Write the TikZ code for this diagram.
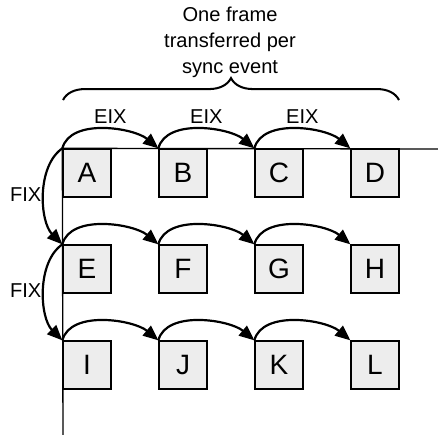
\documentclass[tikz,border=0pt]{standalone}
\usepackage{fontspec}
\setmainfont{Liberation Sans}
\usetikzlibrary{arrows.meta, decorations.pathreplacing}

\begin{document}
\begin{tikzpicture}[
        frame/.style={draw, line width=0.8pt, fill=black!7, minimum size=1cm, inner sep=0pt,
            font=\fontsize{16.6}{18}\selectfont},
        link/.style={line width=1.3pt, -{Triangle[length=9pt, width=7.5pt]}, looseness=0.85},
        lbl/.style={font=\fontsize{11.9}{14}\selectfont, inner sep=1pt}
    ]
        \useasboundingbox (-1.3125, 3.104) rectangle (7.8125, -5.958);

        \node[frame] (A) at (0.5, -0.5) {A};
        \node[frame] (B) at (2.5, -0.5) {B};
        \node[frame] (C) at (4.5, -0.5) {C};
        \node[frame] (D) at (6.5, -0.5) {D};

        \node[frame] (E) at (0.5, -2.5) {E};
        \node[frame] (F) at (2.5, -2.5) {F};
        \node[frame] (G) at (4.5, -2.5) {G};
        \node[frame] (H) at (6.5, -2.5) {H};

        \node[frame] (I) at (0.5, -4.5) {I};
        \node[frame] (J) at (2.5, -4.5) {J};
        \node[frame] (K) at (4.5, -4.5) {K};
        \node[frame] (L) at (6.5, -4.5) {L};

        \coordinate (right) at (7.8125, 0);
        \coordinate (bottom) at (0, -5.958);
        \draw[line width=0.8pt] (right) -- (A.north west) -- (bottom);

        \draw[link] (A.north west) to[out=75, in=140] node[lbl, above=2pt, pos=0.55] {EIX} (B.north west);
        \draw[link] (B.north west) to[out=75, in=140] node[lbl, above=2pt, pos=0.55] {EIX} (C.north west);
        \draw[link] (C.north west) to[out=75, in=140] node[lbl, above=2pt, pos=0.55] {EIX} (D.north west);

        \draw[link] (E.north west) to[out=75, in=140] (F.north west);
        \draw[link] (F.north west) to[out=75, in=140] (G.north west);
        \draw[link] (G.north west) to[out=75, in=140] (H.north west);

        \draw[link] (I.north west) to[out=75, in=140] (J.north west);
        \draw[link] (J.north west) to[out=75, in=140] (K.north west);
        \draw[link] (K.north west) to[out=75, in=140] (L.north west);

        \draw[link] (A.north west) to[out=215, in=135] node[lbl, left] {FIX} (E.north west);
        \draw[link] (E.north west) to[out=215, in=135] node[lbl, left] {FIX} (I.north west);

        \draw[line width=1.2pt, decorate, decoration={brace, amplitude=13pt}]
            (0, 1.02) -- (7, 1.02);
        \node[lbl, align=center, font=\fontsize{11.9}{15.4}\selectfont] (note) at (3.48, 2.23)
            {One frame\\transferred per\\sync event};
    \end{tikzpicture}
\end{document}
